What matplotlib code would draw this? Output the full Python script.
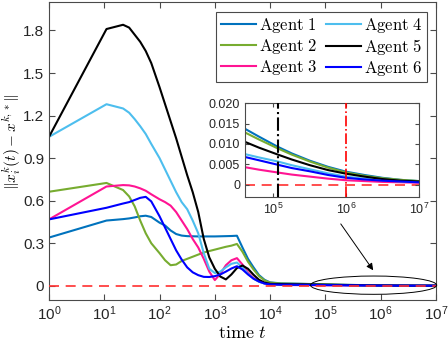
import numpy as np
import matplotlib
matplotlib.use("Agg")
import matplotlib.pyplot as plt
from matplotlib.patches import Ellipse
from matplotlib.ticker import FixedLocator, FuncFormatter

# ---- data ----
# exponent of the time samples, t = 10**log_t
log_t = [0, 1.04, 1.34, 1.45, 1.55, 1.65, 1.75, 1.85,
         2.0, 2.1, 2.2, 2.3, 2.4, 2.5, 2.6, 2.7, 2.8, 2.9, 3.0, 3.1, 3.2, 3.3, 3.4,
         3.5, 3.6, 3.7, 3.8, 3.9, 4.0, 4.2, 4.4,
         4.61, 4.8, 5.06, 5.25, 5.5, 5.75, 6.0, 6.25, 6.5, 6.75, 7.0]

agent1 = [0.34, 0.46, 0.47, 0.475, 0.482, 0.49, 0.494, 0.485,
          0.445, 0.425, 0.39, 0.365, 0.354, 0.35, 0.349, 0.348, 0.348, 0.348, 0.348, 0.349, 0.35, 0.351, 0.353,
          0.27, 0.19, 0.13, 0.075, 0.042, 0.024, 0.017, 0.0155,
          0.0137, 0.0118, 0.0093, 0.0077, 0.0059, 0.0044, 0.0032, 0.0024, 0.0017, 0.0012, 0.0009]
agent2 = [0.663, 0.725, 0.675, 0.63, 0.56, 0.46, 0.37, 0.30,
          0.23, 0.18, 0.145, 0.15, 0.175, 0.19, 0.205, 0.22, 0.235, 0.245, 0.255, 0.265, 0.275, 0.283, 0.295,
          0.24, 0.17, 0.115, 0.068, 0.038, 0.022, 0.016, 0.0145,
          0.0128, 0.0111, 0.0089, 0.0074, 0.0057, 0.0042, 0.0030, 0.0022, 0.0016, 0.0012, 0.0009]
agent3 = [0.468, 0.70, 0.71, 0.708, 0.70, 0.687, 0.67, 0.645,
          0.61, 0.59, 0.565, 0.52, 0.46, 0.40, 0.33, 0.27, 0.19, 0.10, 0.04, 0.085, 0.145, 0.18, 0.195,
          0.15, 0.095, 0.055, 0.03, 0.016, 0.009, 0.006, 0.005,
          0.0043, 0.0037, 0.0030, 0.0025, 0.0020, 0.0015, 0.0011, 0.0009, 0.0007, 0.0006, 0.0005]
agent4 = [1.05, 1.28, 1.25, 1.22, 1.175, 1.125, 1.07, 1.0,
          0.90, 0.82, 0.74, 0.66, 0.59, 0.54, 0.46, 0.37, 0.23, 0.12, 0.09, 0.10, 0.13, 0.155, 0.164,
          0.13, 0.085, 0.05, 0.028, 0.016, 0.011, 0.009, 0.0083,
          0.0075, 0.0067, 0.0057, 0.0048, 0.0038, 0.0028, 0.0020, 0.0015, 0.0011, 0.0008, 0.0007]
agent5 = [1.05, 1.81, 1.84, 1.82, 1.77, 1.72, 1.655, 1.57,
          1.40, 1.28, 1.16, 1.04, 0.91, 0.78, 0.66, 0.52, 0.33, 0.20, 0.12, 0.065, 0.045, 0.08, 0.125,
          0.143, 0.12, 0.078, 0.042, 0.022, 0.014, 0.012, 0.011,
          0.0105, 0.0091, 0.0074, 0.0062, 0.0048, 0.0036, 0.0027, 0.0020, 0.0014, 0.0010, 0.0008]
agent6 = [0.468, 0.55, 0.58, 0.59, 0.605, 0.62, 0.627, 0.595,
          0.49, 0.41, 0.33, 0.25, 0.185, 0.13, 0.095, 0.075, 0.063, 0.062, 0.068, 0.08, 0.10, 0.122, 0.138,
          0.115, 0.08, 0.05, 0.03, 0.016, 0.01, 0.008, 0.0075,
          0.0068, 0.0060, 0.0049, 0.0041, 0.0033, 0.0024, 0.0017, 0.0013, 0.0010, 0.0008, 0.0006]

labels = ["Agent 1", "Agent 2", "Agent 3", "Agent 4", "Agent 5", "Agent 6"]
colors = ["#0072BD", "#77AC30", "#FF1493", "#4DBEEE", "#000000", "#0000FF"]

main_yticks = [0, 0.3, 0.6, 0.9, 1.2, 1.5, 1.8]
inset_yticks = [0, 0.005, 0.010, 0.015, 0.020]
inset_ytick_labels = ["0", "0.005", "0.010", "0.015", "0.020"]
t_switch1 = 1.15e5   # black dash-dot marker
t_switch2 = 1e6      # red dash-dot marker

# ---- style ----
plt.rcParams["font.family"] = ["Liberation Sans", "DejaVu Sans"]
plt.rcParams["mathtext.fontset"] = "cm"
plt.rcParams["axes.edgecolor"] = "#4a4a4a"
plt.rcParams["xtick.color"] = "#4a4a4a"
plt.rcParams["ytick.color"] = "#4a4a4a"
plt.rcParams["xtick.labelcolor"] = "#262626"
plt.rcParams["ytick.labelcolor"] = "#262626"

t = 10 ** np.array(log_t)
series = [agent1, agent2, agent3, agent4, agent5, agent6]

fig = plt.figure(figsize=(4.48, 3.46), dpi=100)
ax = fig.add_axes([0.1094, 0.133, 0.8636, 0.861])

for vals, lab, col in zip(series, labels, colors):
    ax.plot(t, vals, color=col, lw=1.5, label=r"$\mathrm{" + lab.replace(" ", r"\ ") + "}$")
ax.axhline(0, color="#FF3030", lw=1.2, ls=(0, (6, 4)), zorder=3)

ax.set_xscale("log")
ax.set_xlim(1, 1e7)
ax.set_ylim(-0.1, 2.0)
ax.xaxis.set_major_locator(FixedLocator([10.0 ** k for k in range(8)]))
ax.xaxis.set_minor_locator(FixedLocator([]))
ax.set_yticks(main_yticks)
ax.yaxis.set_major_formatter(FuncFormatter(lambda v, p: "%g" % v))
ax.tick_params(direction="in", top=True, right=True, labelsize=11, length=4, width=0.8)
for s in ax.spines.values():
    s.set_linewidth(0.8)

ax.set_xlabel(r"$\mathrm{time}\ t$", fontsize=13, labelpad=1)
ax.set_ylabel(r"$\|x_i^k(t)-x^{k,*}\|$", fontsize=11)
ax.yaxis.set_label_coords(-0.068, 0.53)

leg = ax.legend(ncol=2, loc="upper right", bbox_to_anchor=(0.953, 0.965),
                bbox_transform=fig.transFigure, borderaxespad=0, fontsize=12,
                handlelength=2.1, handletextpad=0.2, columnspacing=0.5,
                labelspacing=0.1, borderpad=0.25, fancybox=False, framealpha=1)
leg.get_frame().set_edgecolor("#4a4a4a")
leg.get_frame().set_linewidth(0.8)

# ellipse and arrow highlighting the tail
ell = Ellipse((0.839, 0.0497), 0.326, 0.0614, transform=ax.transAxes,
              fill=False, edgecolor="black", lw=0.7, clip_on=False, zorder=5)
ax.add_patch(ell)
ax.annotate("", xy=(0.842, 0.092), xytext=(0.750, 0.263),
            xycoords="axes fraction", textcoords="axes fraction",
            arrowprops=dict(arrowstyle="-|>", color="black", lw=0.7, mutation_scale=10))

# ---- inset ----
axin = fig.add_axes([0.547, 0.4306, 0.388, 0.2714])
for vals, col in zip(series, colors):
    axin.plot(t, vals, color=col, lw=1.5)
axin.axhline(0, color="#FF3030", lw=1.2, ls=(0, (6, 4)), zorder=1)
axin.axvline(t_switch1, color="black", lw=1.5, ls="-.", zorder=4)
axin.axvline(t_switch2, color="red", lw=1.2, ls="-.", zorder=4)
axin.set_xscale("log")
axin.set_xlim(10 ** 4.61, 1e7)
axin.set_ylim(-0.003, 0.020)
axin.xaxis.set_major_locator(FixedLocator([1e5, 1e6, 1e7]))
axin.xaxis.set_minor_locator(FixedLocator([]))
axin.set_yticks(inset_yticks)
axin.set_yticklabels(inset_ytick_labels)
axin.tick_params(direction="in", top=True, right=True, labelsize=9, length=3, width=0.8)
for s in axin.spines.values():
    s.set_linewidth(0.8)

fig.savefig("out.png", dpi=100)
